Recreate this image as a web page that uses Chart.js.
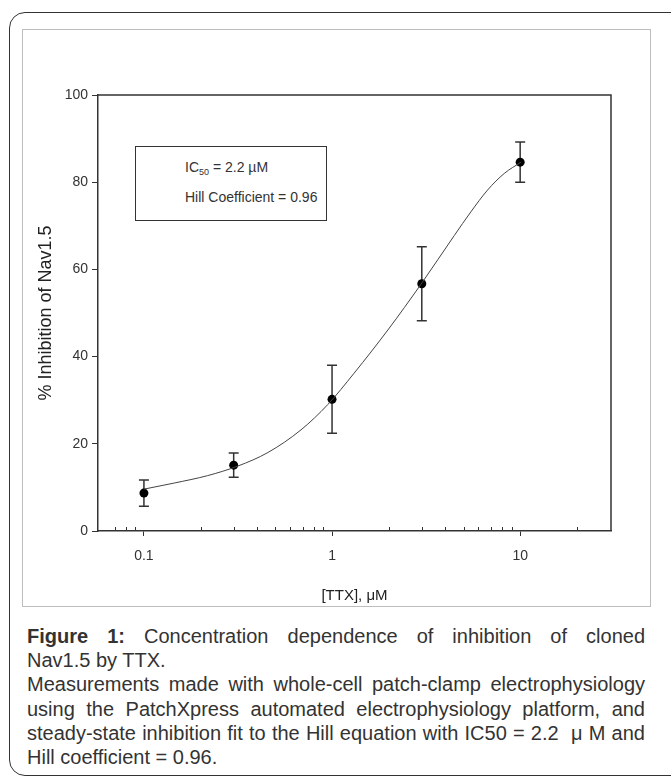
<!DOCTYPE html>
<html>
<head>
<meta charset="utf-8">
<script src="https://cdn.jsdelivr.net/npm/chart.js@4.4.1/dist/chart.umd.min.js"></script>
<style>
  html, body { margin: 0; padding: 0; background: #fff; }
  body { width: 671px; height: 782px; position: relative; overflow: hidden; font-family: 'Liberation Sans', Arial, sans-serif; }
  #frame { position: absolute; left: 9px; top: 12px; width: 690px; height: 762px; border: 1.5px solid #333; border-radius: 16px; }
  #panel { position: absolute; left: 22px; top: 29px; width: 627px; height: 576px; border: 1px solid #bdbdbd; }
  #chart { position: absolute; left: 23px; top: 30px; }
  #note { position: absolute; left: 135px; top: 146px; width: 190px; height: 73px; border: 1.5px solid #333; background: #fff;
          font-family: 'Liberation Sans Narrow', 'Arial Narrow', 'Liberation Sans', sans-serif; font-size: 14px; color: #333; }
  #note div { position: absolute; left: 49px; white-space: nowrap; }
  #note sub { font-size: 9px; vertical-align: -3px; }
  #caption { position: absolute; left: 27px; top: 624px; width: 618px; font-size: 20px; line-height: 24.2px; color: #333; }
  #caption .j { text-align: justify; text-align-last: justify; white-space: nowrap; }
  #caption .l { text-align: left; white-space: nowrap; }
</style>
</head>
<body>
<div id="frame"></div>
<div id="panel"></div>
<canvas id="chart" width="626" height="575"></canvas>
<div id="note">
  <div style="top:12px">IC<sub>50</sub> = 2.2 µM</div>
  <div style="top:42px">Hill Coefficient = 0.96</div>
</div>
<div id="caption">
  <div class="j"><b>Figure 1:</b> Concentration dependence of inhibition of cloned</div>
  <div class="l">Nav1.5 by TTX.</div>
  <div class="j">Measurements made with whole-cell patch-clamp electrophysiology</div>
  <div class="j">using the PatchXpress automated electrophysiology platform, and</div>
  <div class="j">steady-state inhibition fit to the Hill equation with IC50 = 2.2 &nbsp;μ M and</div>
  <div class="l">Hill coefficient = 0.96.</div>
</div>
<script>
// 数据点 (均值 ± 误差)
const ttxConc = [0.1, 0.3, 1, 3, 10];
const inhibition = [8.7, 15.1, 30.2, 56.7, 84.6];
const inhibitionErr = [3.0, 2.8, 7.8, 8.5, 4.6];

// 拟合曲线
const fitConc = [0.1, 0.145, 0.218, 0.316, 0.456, 0.684, 0.949, 1.31, 1.98, 2.97, 4.47, 5.47, 6.71, 8.23, 10.1];
const fitInhibition = [9.6, 11.0, 12.7, 14.9, 18.0, 23.2, 29.0, 36.2, 46.1, 56.6, 67.8, 73.2, 78.2, 82.0, 84.6];

// 坐标轴刻度
const xMajorTicks = [0.1, 1, 10];
const xTickLabels = ['0.1', '1', '10'];
const xMinorTicks = [0.07, 0.08, 0.09, 0.2, 0.3, 0.4, 0.5, 0.6, 0.7, 0.8, 0.9, 2, 3, 4, 5, 6, 7, 8, 9, 20];
const yTicks = [0, 20, 40, 60, 80, 100];

const axisColor = '#333';
const tickFont = { family: "'Liberation Sans Narrow', 'Arial Narrow', 'Liberation Sans', sans-serif", size: 14 };

// 图框 + 次刻度 + 误差棒
const extrasPlugin = {
    id: 'extras',
    beforeDatasetsDraw(chart) {
        const { ctx, scales: { x, y } } = chart;
        ctx.save();
        ctx.strokeStyle = axisColor;
        ctx.lineWidth = 1.5;
        ttxConc.forEach((c, i) => {
            const px = x.getPixelForValue(c);
            const top = y.getPixelForValue(inhibition[i] + inhibitionErr[i]);
            const bot = y.getPixelForValue(inhibition[i] - inhibitionErr[i]);
            ctx.beginPath();
            ctx.moveTo(px, top); ctx.lineTo(px, bot);
            ctx.moveTo(px - 5, top); ctx.lineTo(px + 5, top);
            ctx.moveTo(px - 5, bot); ctx.lineTo(px + 5, bot);
            ctx.stroke();
        });
        ctx.restore();
    },
    afterDraw(chart) {
        const { ctx, chartArea: a, scales: { x } } = chart;
        ctx.save();
        ctx.strokeStyle = axisColor;
        ctx.lineWidth = 1.5;
        ctx.beginPath();
        ctx.moveTo(a.left, a.top); ctx.lineTo(a.right, a.top); ctx.lineTo(a.right, a.bottom);
        ctx.stroke();
        ctx.lineWidth = 1;
        ctx.beginPath();
        xMinorTicks.forEach(v => {
            const px = Math.round(x.getPixelForValue(v)) + 0.5;
            ctx.moveTo(px, a.bottom); ctx.lineTo(px, a.bottom - 4);
        });
        ctx.stroke();
        ctx.restore();
    }
};

new Chart(document.getElementById('chart'), {
    type: 'scatter',
    data: {
        datasets: [{
            label: 'fit',
            data: fitConc.map((c, i) => ({ x: c, y: fitInhibition[i] })),
            showLine: true,
            borderColor: '#444',
            borderWidth: 1,
            pointRadius: 0,
            cubicInterpolationMode: 'monotone'
        }, {
            label: 'TTX',
            data: ttxConc.map((c, i) => ({ x: c, y: inhibition[i] })),
            backgroundColor: '#000',
            borderColor: '#000',
            pointRadius: 4.5,
            pointBorderWidth: 0
        }]
    },
    options: {
        responsive: false,
        animation: false,
        layout: {
            padding: { left: 0, top: 65, right: 38, bottom: 0 }
        },
        plugins: {
            legend: { display: false },
            tooltip: { enabled: false }
        },
        scales: {
            x: {
                type: 'logarithmic',
                min: 0.057,
                max: 30.4,
                afterBuildTicks: s => { s.ticks = xMajorTicks.map(v => ({ value: v })); },
                afterFit: s => { s.height = 74; },
                grid: {
                    drawOnChartArea: false,
                    color: axisColor,
                    tickLength: 5
                },
                border: { color: axisColor, width: 1.5 },
                ticks: {
                    color: '#333',
                    font: tickFont,
                    padding: 12,
                    maxRotation: 0,
                    autoSkip: false,
                    callback: (v) => xTickLabels[xMajorTicks.indexOf(v)]
                },
                title: {
                    display: true,
                    text: '[TTX], μM',
                    color: '#222',
                    font: { family: "'Liberation Sans', Arial, sans-serif", size: 15 },
                    padding: { top: 0, bottom: 0 }
                }
            },
            y: {
                min: 0,
                max: 100,
                afterBuildTicks: s => { s.ticks = yTicks.map(v => ({ value: v })); },
                afterFit: s => { s.width = 75; },
                grid: {
                    drawOnChartArea: false,
                    color: axisColor,
                    tickLength: 6
                },
                border: { color: axisColor, width: 1.5 },
                ticks: {
                    color: '#333',
                    font: tickFont,
                    padding: 4
                },
                title: {
                    display: true,
                    text: '% Inhibition of Nav1.5',
                    color: '#222',
                    font: { family: "'Liberation Sans', Arial, sans-serif", size: 18 },
                    padding: { top: 12, bottom: 0 }
                }
            }
        }
    },
    plugins: [extrasPlugin]
});
</script>
</body>
</html>
